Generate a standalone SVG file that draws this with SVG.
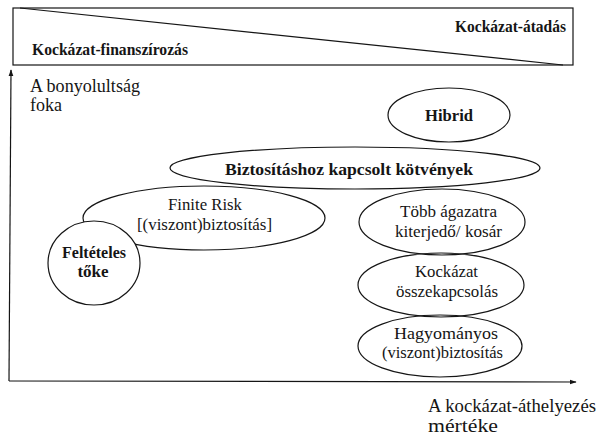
<svg xmlns="http://www.w3.org/2000/svg" width="599" height="440" viewBox="0 0 599 440" font-family="'Liberation Serif', 'DejaVu Serif', serif">
<defs>
<style>
.ln{fill:none;stroke:#151515;stroke-width:1.2}
.nd{fill:none;stroke:#151515;stroke-width:1.2}
.wf{fill:#fff;stroke:#151515;stroke-width:1.2}
text{font-family:'Liberation Serif','DejaVu Serif',serif;fill:#151515;font-size:17px}
.b{font-weight:bold}
.c{text-anchor:middle}
.t18{font-size:18px}
</style>
<marker id="ah" viewBox="0 0 10 10" refX="9" refY="5" markerWidth="7" markerHeight="7" orient="auto" markerUnits="userSpaceOnUse">
<path d="M0,1.5 L10,5 L0,8.5 z" fill="#151515"/>
</marker>
</defs>
<rect width="599" height="440" fill="#fff"/>
<g id="band">
<rect class="ln" x="13" y="8" width="560" height="57"/>
<line class="ln" x1="20" y1="8" x2="563" y2="65"/>
<text class="b" x="455" y="32" textLength="111" lengthAdjust="spacingAndGlyphs">Kockázat-átadás</text>
<text class="b" x="32" y="55" textLength="156" lengthAdjust="spacingAndGlyphs">Kockázat-finanszírozás</text>
</g>
<g id="connectors">
<line class="ln" x1="9" y1="381" x2="11" y2="70" marker-end="url(#ah)"/>
<line class="ln" x1="9" y1="381" x2="576" y2="382" marker-end="url(#ah)"/>
</g>
<g id="axis-labels">
<text class="t18" x="30" y="92" textLength="110" lengthAdjust="spacingAndGlyphs">A bonyolultság</text>
<text class="t18" x="30" y="111">foka</text>
<text class="t18" x="428" y="412" textLength="168" lengthAdjust="spacingAndGlyphs">A kockázat-áthelyezés</text>
<text class="t18" x="428" y="432" textLength="70" lengthAdjust="spacingAndGlyphs">mértéke</text>
</g>
<g id="hibrid">
<ellipse class="nd" cx="449" cy="115" rx="61" ry="27"/>
<text class="b c" x="449" y="121" textLength="48" lengthAdjust="spacingAndGlyphs">Hibrid</text>
</g>
<g id="kotvenyek">
<ellipse class="nd" cx="355" cy="168" rx="185" ry="21"/>
<text class="b" x="225" y="175" textLength="248" lengthAdjust="spacingAndGlyphs">Biztosításhoz kapcsolt kötvények</text>
</g>
<g id="finite-risk">
<ellipse class="nd" cx="204" cy="218" rx="121" ry="32"/>
<text x="168" y="210" textLength="74" lengthAdjust="spacingAndGlyphs">Finite Risk</text>
<text x="137" y="230" textLength="135" lengthAdjust="spacingAndGlyphs">[(viszont)biztosítás]</text>
</g>
<g id="felteteles-toke">
<ellipse class="wf" cx="94" cy="263" rx="46" ry="42"/>
<text class="b" x="62" y="258" textLength="64" lengthAdjust="spacingAndGlyphs">Feltételes</text>
<text class="b c" x="93" y="277">tőke</text>
</g>
<g id="tobb-agazatra">
<ellipse class="nd" cx="442" cy="222" rx="83" ry="33"/>
<text x="400" y="217" textLength="97" lengthAdjust="spacingAndGlyphs">Több ágazatra</text>
<text x="395" y="237" textLength="107" lengthAdjust="spacingAndGlyphs">kiterjedő/ kosár</text>
</g>
<g id="kockazat-osszekapcsolas">
<ellipse class="nd" cx="441" cy="285" rx="83" ry="32"/>
<text x="415" y="277" textLength="63" lengthAdjust="spacingAndGlyphs">Kockázat</text>
<text x="396" y="297" textLength="102" lengthAdjust="spacingAndGlyphs">összekapcsolás</text>
</g>
<g id="hagyomanyos">
<ellipse class="nd" cx="440" cy="346" rx="82" ry="31"/>
<text x="394" y="339" textLength="104" lengthAdjust="spacingAndGlyphs">Hagyományos</text>
<text x="382" y="358" textLength="121" lengthAdjust="spacingAndGlyphs">(viszont)biztosítás</text>
</g>
</svg>
